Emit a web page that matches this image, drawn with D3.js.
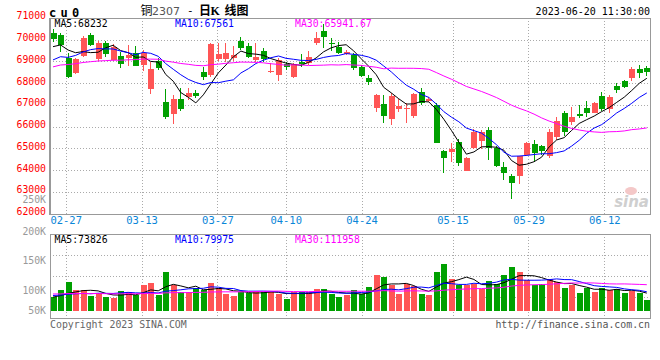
<!DOCTYPE html>
<html><head><meta charset="utf-8">
<script src="https://cdn.jsdelivr.net/npm/d3@7"></script>
<style>body{margin:0;background:#fff}svg{display:block}</style>
</head><body>
<svg id="c" width="660" height="360"></svg>
<script>
// ---------------- DATA ----------------
const dates = ["02-23","02-24","02-27","02-28","03-01","03-02","03-03","03-06","03-07","03-08","03-09","03-10","03-13","03-14","03-15","03-16","03-17","03-20","03-21","03-22","03-23","03-24","03-27","03-28","03-29","03-30","03-31","04-03","04-04","04-06","04-07","04-10","04-11","04-12","04-13","04-14","04-17","04-18","04-19","04-20","04-21","04-24","04-25","04-26","04-27","04-28","05-04","05-05","05-08","05-09","05-10","05-11","05-12","05-15","05-16","05-17","05-18","05-19","05-22","05-23","05-24","05-25","05-26","05-29","05-30","05-31","06-01","06-02","06-05","06-06","06-07","06-08","06-09","06-12","06-13","06-14","06-15","06-16","06-19","06-20"];
const open  = [70300,70240,69160,68450,69270,70200,69110,69850,69080,69270,69140,69390,68840,67730,69020,67150,66580,67260,67350,67550,68510,68380,69110,69100,69140,69950,69710,69070,69490,68510,68380,68880,68270,68970,68910,69840,70420,69860,69680,69330,69300,68760,68250,66840,67040,66350,66830,66830,66490,67610,67200,67000,64880,64840,65300,63970,65000,65350,65840,65000,64150,63730,63730,64690,65200,65110,64650,65500,66640,66230,66580,66840,66640,67410,66800,67870,68100,68220,68640,68680];
const high  = [70480,70330,69390,69160,70170,70310,69940,69950,69800,69430,69740,69710,69530,68970,69160,67720,67450,67760,67760,67690,68740,69870,69850,69860,69720,70110,69840,69840,69630,68910,69140,68990,68940,69340,69490,70370,70720,70070,69910,69530,69370,68840,68380,67490,67450,67530,67270,67090,67550,67780,67380,67090,64920,65230,65430,64600,65880,65840,65970,65110,64380,63820,64650,65300,65380,65150,65870,66430,66720,66920,66990,67180,67150,67610,67450,68020,68150,68760,68840,68790];
const low   = [69910,69430,68260,68420,69200,69700,69000,69200,69010,68680,68790,68770,68580,67500,68610,66340,66120,66720,67220,67320,68150,68280,69000,68990,69030,69530,69140,68990,68990,68450,68110,68610,68220,68760,68840,69760,69600,69490,69340,69300,68610,68270,67910,66670,66180,66070,66670,66180,66400,67000,67150,65230,63880,64380,64200,63960,64970,64950,64460,64140,63540,62670,63360,64650,64380,64690,64550,65380,65580,66070,66380,66430,66610,66720,66610,67560,67760,68110,68220,68330];
const close = [70020,69780,68300,69090,70080,69780,69870,69320,69680,68860,69280,68810,69410,68650,68700,66430,67260,66800,67560,67410,68280,69800,69320,69370,69300,69600,69220,69190,69100,68540,69070,68730,68880,68880,69220,70090,70140,69800,69400,69420,68680,68330,68070,67450,66510,67410,66970,66850,67500,67070,67290,65260,64570,64950,64340,64540,65770,65740,65000,64190,63850,63420,64650,65230,64770,64890,65770,66260,65770,66430,66490,66640,67100,66800,67350,67690,67840,68640,68450,68500];
const volume = [84300,100700,114600,100700,100700,86800,95000,83500,81000,98500,96800,88500,110100,113000,90000,131500,109000,96800,96800,104000,101200,113000,103800,93000,87800,96800,95000,97500,97500,97500,91800,80000,97500,97500,97500,102900,102900,91800,83500,89300,101200,91800,106700,126400,122500,109600,91800,111300,107900,91800,88500,131000,145000,119200,109600,109600,111300,102400,116300,111300,126400,140000,132000,118000,109000,111300,119200,115200,105000,109600,95000,105000,97500,105000,101200,102900,95000,100000,95000,76800];
// history before the first visible day (needed for the moving averages)
const priorClose  = [67200,67600,68000,68400,68700,68900,68800,69100,68900,68700,68500,68600,68800,68900,69000,68700,68600,68700,68900,68800,68300,68600,68200,68500,68700,69380,69465,69715,69820];
const priorVolume = [95000,92000,98000,90000,96000,94000,93000,97000,91000,95000,92000,94000,96000,93000,91000,95000,94000,92000,93000,93000,90000,95000,88000,93000,94000,82000,86000,84000,83700];
const priceTicks = [62000,63000,64000,65000,66000,67000,68000,69000,70000,71000];
const volTicks = [50000,100000,150000,200000,250000];
const volTickLabels = ["50K","100K","150K","200K","250K"];
const dateTicks = ["02-27","03-13","03-27","04-10","04-24","05-15","05-29","06-12"];
const maPeriods = [5,10,30];
const maColors = ["#000000","#0000ff","#ff00ff"];
const priceLegend = ["MA5:68232","MA10:67561","MA30:65941.67"];
const volLegend = ["MA5:73826","MA10:79975","MA30:111958"];

// ---------------- LAYOUT ----------------
const svg = d3.select("#c");
const mono = "'DejaVu Sans Mono', monospace";
const cjk = "'Noto Sans CJK SC', sans-serif";
const L = 50, R = 650, PT = 18, PB = 213.5, VT = 234.3, VB = 317.7;
const UP = "#ff5555", DOWN = "#00a000";
const N = dates.length;

const x = d3.scaleLinear().domain([0, N - 1]).range([52.5, 646.3]);
const gx = d3.scaleLinear().domain([dates.indexOf("02-27"), dates.indexOf("06-12")]).range([65.7, 604.3]);
const y = d3.scaleLinear().domain([62000, 71000]).range([PB, PT]);
const yv = d3.scaleLinear().domain([50000, 100000, 250000]).range([310.7, 290.7, 201.6]);

function movingAvg(hist, vals, n) {
  const all = hist.concat(vals), off = hist.length;
  return vals.map((v, i) => d3.mean(all.slice(off + i - n + 1, off + i + 1)));
}

// ---------------- GRID ----------------
const grid = svg.append("g").attr("stroke", "#aaa").attr("stroke-dasharray", "1,2").attr("shape-rendering", "crispEdges");
priceTicks.filter(t => t > 62000 && t < 71000).forEach(t => {
  grid.append("line").attr("x1", L).attr("x2", R).attr("y1", Math.round(y(t)) + 0.5).attr("y2", Math.round(y(t)) + 0.5);
});
dateTicks.forEach(d => {
  const xx = Math.round(gx(dates.indexOf(d))) + 0.5;
  grid.append("line").attr("x1", xx).attr("x2", xx).attr("y1", PT).attr("y2", PB);
  grid.append("line").attr("x1", xx).attr("x2", xx).attr("y1", VT).attr("y2", VB);
});
d3.range(1, 4).forEach(k => {
  const yy = Math.round(VT + (VB - VT) * k / 4) + 0.5;
  grid.append("line").attr("x1", L).attr("x2", R).attr("y1", yy).attr("y2", yy);
});

// ---------------- CANDLES ----------------
const cg = svg.append("g").attr("shape-rendering", "crispEdges");
dates.forEach((d, i) => {
  const col = close[i] >= open[i] ? UP : DOWN;
  const cx = Math.round(x(i));
  cg.append("line").attr("x1", cx + 0.5).attr("x2", cx + 0.5)
    .attr("y1", y(high[i])).attr("y2", y(low[i])).attr("stroke", col);
  const top = Math.min(y(open[i]), y(close[i]));
  const h = Math.max(1, Math.abs(y(open[i]) - y(close[i])));
  cg.append("rect").attr("x", cx - 2.5).attr("y", top).attr("width", 6).attr("height", h).attr("fill", col);
});

// ---------------- PRICE MA ----------------
maPeriods.forEach((n, k) => {
  const ma = movingAvg(priorClose, close, n);
  svg.append("path").datum(ma).attr("fill", "none").attr("stroke", maColors[k]).attr("stroke-width", 1)
    .attr("d", d3.line().x((v, i) => x(i) + 0.5).y(v => y(v)));
});

// ---------------- VOLUME ----------------
const vg = svg.append("g").attr("shape-rendering", "crispEdges");
volume.forEach((v, i) => {
  const col = close[i] >= open[i] ? UP : DOWN;
  const cx = Math.round(x(i));
  vg.append("rect").attr("x", cx - 2.5).attr("y", yv(v)).attr("width", 6)
    .attr("height", yv(volTicks[0]) - yv(v)).attr("fill", col);
});
maPeriods.forEach((n, k) => {
  const ma = movingAvg(priorVolume, volume, n);
  svg.append("path").datum(ma).attr("fill", "none").attr("stroke", maColors[k]).attr("stroke-width", 1)
    .attr("d", d3.line().x((v, i) => x(i) + 0.5).y(v => yv(v)));
});

// ---------------- FRAMES ----------------
const fr = svg.append("g").attr("fill", "none").attr("stroke", "#999").attr("shape-rendering", "crispEdges");
fr.append("rect").attr("x", L + 0.5).attr("y", PT + 0.5).attr("width", R - L).attr("height", PB - PT);
fr.append("rect").attr("x", L + 0.5).attr("y", VT + 0.5).attr("width", R - L).attr("height", VB - VT);
fr.append("line").attr("x1", L).attr("x2", R + 1).attr("y1", PB + 1).attr("y2", PB + 1);
fr.append("line").attr("x1", L - 0.5).attr("x2", L - 0.5).attr("y1", PT).attr("y2", PB + 1);

// ---------------- AXIS LABELS ----------------
const yAx = svg.append("g").attr("transform", `translate(${L - 4},0)`)
  .call(d3.axisLeft(y).tickValues(priceTicks).tickSize(0).tickPadding(0).tickFormat(d3.format("d")));
yAx.select(".domain").remove();
yAx.selectAll("text").attr("fill", "#ff0000").attr("font-family", mono).attr("font-size", 9.8)
  .attr("dy", "0.1em").attr("text-anchor", "end");

const vAx = svg.append("g").attr("transform", `translate(${L - 4},0)`)
  .call(d3.axisLeft(yv).tickValues(volTicks).tickSize(0).tickPadding(0).tickFormat((d, i) => volTickLabels[i]));
vAx.select(".domain").remove();
vAx.selectAll("text").attr("fill", "#999").attr("font-family", mono).attr("font-size", 9.8)
  .attr("dy", "0.3em").attr("text-anchor", "end");
vAx.selectAll("text").filter(d => d === 250000).attr("dy", "0.12em");

const xAx = svg.append("g").attr("transform", `translate(0,${PB + 1})`)
  .call(d3.axisBottom(gx).tickValues(dateTicks.map(d => dates.indexOf(d))).tickSize(0).tickPadding(2)
  .tickFormat(i => dates[i]));
xAx.select(".domain").remove();
xAx.selectAll("text").attr("fill", "#0a86d8").attr("font-family", mono).attr("font-size", 10.5).attr("dy", "0.75em");

// ---------------- LEGENDS & TITLES ----------------
const legX = [54.5, 175, 295];
priceLegend.forEach((t, k) => svg.append("text").attr("x", legX[k]).attr("y", 27).attr("fill", maColors[k])
  .attr("font-family", mono).attr("font-size", 9.8).text(t));
volLegend.forEach((t, k) => svg.append("text").attr("x", legX[k]).attr("y", 242.5).attr("fill", maColors[k])
  .attr("font-family", mono).attr("font-size", 9.8).text(t));

svg.append("text").attr("x", 49).attr("y", 16.5).attr("font-family", mono).attr("font-weight", "bold")
  .attr("font-size", 12).attr("letter-spacing", 4.3).attr("fill", "#000").text("cu0");
svg.append("text").attr("x", 140.5).attr("y", 14.5).attr("font-family", cjk).attr("font-size", 12).attr("fill", "#000").text("铜");
svg.append("text").attr("x", 152).attr("y", 14.5).attr("font-family", "'DejaVu Sans', sans-serif").attr("font-size", 11).attr("fill", "#555").text("2307");
svg.append("text").attr("x", 187).attr("y", 14).attr("font-family", mono).attr("font-size", 11).attr("fill", "#000").text("-");
svg.append("text").attr("x", 199).attr("y", 14.5).attr("font-family", cjk).attr("font-weight", "bold").attr("font-size", 12).attr("fill", "#000").text("日");
svg.append("text").attr("x", 210.5).attr("y", 14.5).attr("font-family", "'Liberation Serif', serif").attr("font-weight", "bold").attr("font-size", 12).attr("fill", "#000").text("K");
svg.append("text").attr("x", 224.5).attr("y", 14.5).attr("font-family", cjk).attr("font-weight", "bold").attr("font-size", 12).attr("fill", "#000").text("线图");
svg.append("text").attr("x", 650).attr("y", 15).attr("text-anchor", "end").attr("font-family", mono).attr("font-size", 10).attr("fill", "#000").text("2023-06-20 11:30:00");

svg.append("text").attr("x", 50).attr("y", 327.5).attr("font-family", mono).attr("font-size", 9.9).attr("fill", "#666").text("Copyright 2023 SINA.COM");
svg.append("text").attr("x", 650).attr("y", 327.5).attr("text-anchor", "end").attr("font-family", mono).attr("font-size", 9.9).attr("fill", "#555").text("http://finance.sina.com.cn");

// watermark
svg.append("ellipse").attr("cx", 631).attr("cy", 191).attr("rx", 6).attr("ry", 4).attr("fill", "#f4c8c8");
svg.append("text").attr("x", 649).attr("y", 207).attr("text-anchor", "end").attr("font-family", "'DejaVu Sans', sans-serif")
  .attr("font-style", "italic").attr("font-weight", "bold").attr("font-size", 15).attr("fill", "#cfcfcf").text("sina");
</script>
</body></html>
